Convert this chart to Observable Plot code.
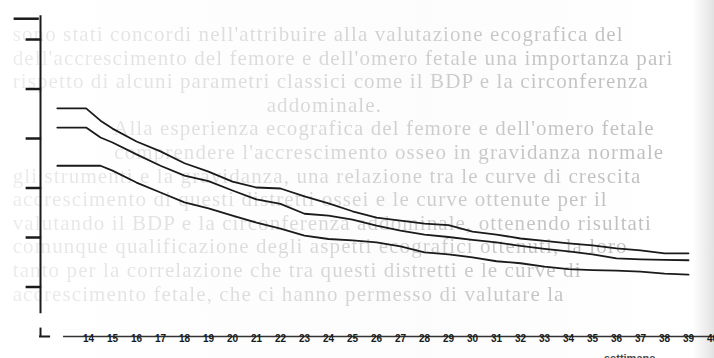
<!DOCTYPE html>
<html>
<head>
<meta charset="utf-8">
<script src="https://cdn.jsdelivr.net/npm/d3@7"></script>
<script src="https://cdn.jsdelivr.net/npm/@observablehq/plot@0.6"></script>
<style>
  html, body { margin: 0; padding: 0; }
  body { width: 714px; height: 358px; overflow: hidden; position: relative;
         background: linear-gradient(to right, #ffffff 0%, #fcfcfc 60%, #ffffff 97%, #e2e2e2 100%); }
  #bg { position: absolute; left: 0; top: 23px; width: 714px;
        font-family: "Liberation Serif", "DejaVu Serif", serif; font-size: 21px;
        line-height: 23.6px; letter-spacing: 1.1px; white-space: pre; overflow: hidden;
        background: linear-gradient(to right, #ececec 0%, #dadada 40%, #c4c4c4 75%, #bcbcbc 100%);
        -webkit-background-clip: text; background-clip: text; color: transparent; }
  #chart { position: absolute; left: 0; top: 0; }
  #chart svg { background: transparent; }
  #xlabel { position: absolute; left: 604px; top: 352px; font-family: "Liberation Sans", sans-serif;
            font-size: 11px; font-weight: bold; color: #444; }
</style>
</head>
<body>
<div id="bg"></div>
<div id="chart"></div>
<div id="xlabel">settimane</div>
<script>
// Faint text showing through from the printed page
const pageLines = [
  "  sono stati concordi nell'attribuire alla valutazione ecografica del",
  "  dell'accrescimento del femore e dell'omero fetale una importanza pari",
  "  rispetto di alcuni parametri classici come il BDP e la circonferenza",
  "                                          addominale.",
  "                  Alla esperienza ecografica del femore e dell'omero fetale",
  "                  comprendere l'accrescimento osseo in gravidanza normale",
  "  gli strumenti e la gravidanza, una relazione tra le curve di crescita",
  "  accrescimento di questi distretti ossei e le curve ottenute per il",
  "  valutando il BDP e la circonferenza addominale, ottenendo risultati",
  "  comunque qualificazione degli aspetti ecografici ottenuti, la loro",
  "  tanto per la correlazione che tra questi distretti e le curve di",
  "  accrescimento fetale, che ci hanno permesso di valutare la"
];

// Gestational weeks (x) and the three curves (y, axis units)
const weeks = [12.7, 13.9, 14.5, 15, 16, 17, 18, 19, 20, 21, 22, 23, 24, 25, 26, 27,
               28, 29, 30, 31, 32, 33, 34, 35, 36, 37, 38, 39];
const upperCurve = [4.61, 4.61, 4.36, 4.20, 3.94, 3.74, 3.50, 3.33, 3.13, 3.01, 2.99, 2.83, 2.69, 2.53,
                    2.40, 2.34, 2.28, 2.25, 2.12, 2.06, 1.98, 1.93, 1.88, 1.84, 1.78, 1.74, 1.68, 1.68];
const middleCurve = [4.22, 4.22, 4.02, 3.92, 3.68, 3.45, 3.25, 3.14, 2.95, 2.77, 2.68, 2.48, 2.44, 2.36,
                     2.24, 2.14, 2.06, 2.01, 1.95, 1.90, 1.83, 1.77, 1.72, 1.66, 1.58, 1.56, 1.55, 1.54];
const lowerCurve = [3.45, 3.45, 3.45, 3.35, 3.11, 2.91, 2.71, 2.59, 2.44, 2.30, 2.18, 2.04, 1.97, 1.94,
                    1.90, 1.82, 1.70, 1.66, 1.60, 1.52, 1.48, 1.41, 1.36, 1.34, 1.33, 1.31, 1.27, 1.25];
const xTickLabels = [14, 15, 16, 17, 18, 19, 20, 21, 22, 23, 24, 25, 26, 27, 28, 29, 30,
                     31, 32, 33, 34, 35, 36, 37, 38, 39, 40];
const yTicks = [1, 2, 3, 4, 5, 6];

document.getElementById("bg").textContent = pageLines.join("\n");

const rows = [];
[["upper", upperCurve], ["middle", middleCurve], ["lower", lowerCurve]].forEach(([name, vals]) => {
  vals.forEach((v, i) => rows.push({series: name, week: weeks[i], value: v}));
});

const ink = "#1a1a1a";
const chart = Plot.plot({
  width: 714,
  height: 358,
  marginLeft: 0, marginRight: 0, marginTop: 0, marginBottom: 22,
  x: {domain: [10.333, 40.083], axis: null},
  y: {domain: [0, 6.788], axis: null},
  style: {background: "transparent"},
  marks: [
    Plot.ruleX([12], {y1: 0.46, y2: 6.48, stroke: ink, strokeWidth: 2}),
    Plot.ruleY(yTicks, {x1: 11.4, x2: 12.05, stroke: ink, strokeWidth: 2.5}),
    Plot.ruleY([6.42], {x1: 10.9, x2: 11.95, stroke: ink, strokeWidth: 2.5}),
    Plot.ruleX([12], {y1: 0, y2: 0.17, stroke: ink, strokeWidth: 2}),
    Plot.ruleY([0], {x1: 11.96, x2: 12.42, stroke: ink, strokeWidth: 2}),
    Plot.ruleY([0], {x1: 12.96, x2: 40.2, stroke: "#333", strokeWidth: 1.5}),
    Plot.text(xTickLabels, {x: d => d, y: 0, dy: 2, fontSize: 10, fontWeight: "bold",
                            fill: ink, fontFamily: "Liberation Sans"}),
    Plot.line(rows, {x: "week", y: "value", z: "series", stroke: ink, strokeWidth: 1.8,
                     curve: "linear"})
  ]
});
document.getElementById("chart").appendChild(chart);
</script>
</body>
</html>
